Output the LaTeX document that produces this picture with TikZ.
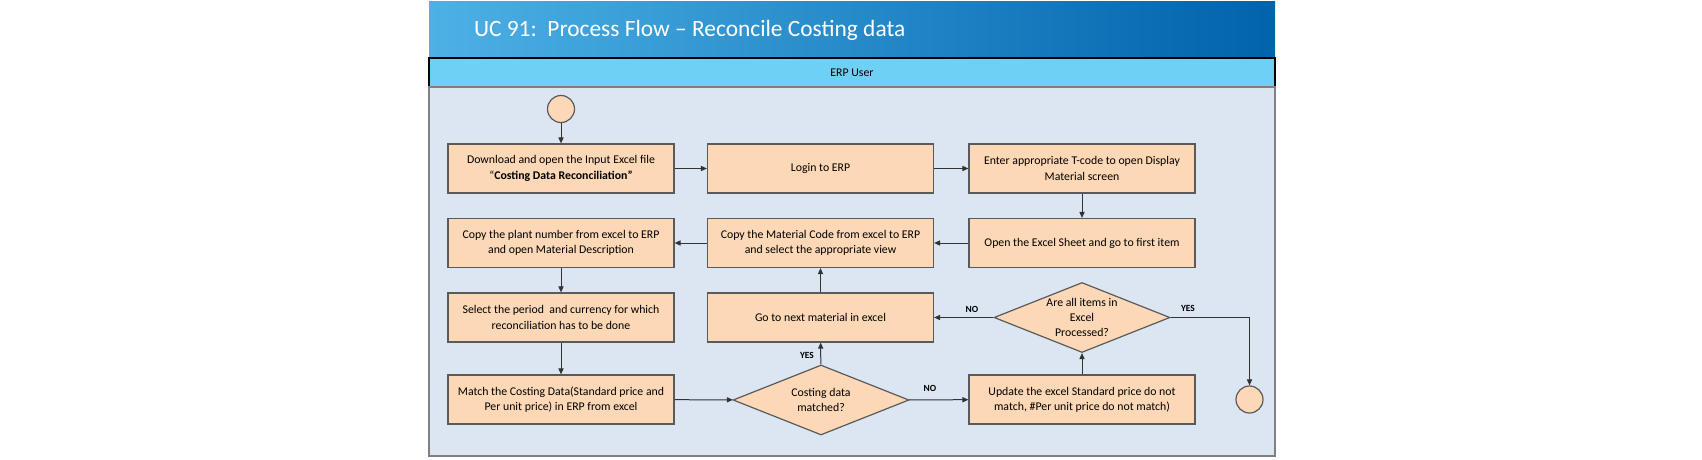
\documentclass[tikz,border=0pt]{standalone}
\usepackage{fontspec}
\setmainfont{Carlito}
\usetikzlibrary{shapes.geometric,arrows.meta}

\definecolor{peach}{HTML}{FCD8B6}
\definecolor{lanebg}{HTML}{DCE6F2}
\definecolor{lanehead}{HTML}{6FD0F6}
\definecolor{titleleft}{HTML}{4DB1E6}
\definecolor{titleright}{HTML}{0063AC}
\definecolor{edgegray}{HTML}{5A5A5A}

\tikzset{
    proc/.style={draw=edgegray, fill=peach, line width=0.6pt, minimum width=113pt,
        minimum height=24.5pt, inner sep=1pt, align=center,
        font=\fontsize{5.9}{7.6}\selectfont},
    decide/.style={diamond, draw=edgegray, fill=peach, line width=0.6pt, aspect=2.5,
        minimum width=88pt, minimum height=35pt, inner sep=0pt, align=center,
        font=\fontsize{5.9}{7.6}\selectfont},
    terminal/.style={circle, draw=edgegray, fill=peach, line width=0.6pt,
        minimum size=13.5pt, inner sep=0pt},
    flow/.style={draw=black!80, line width=0.5pt, -{Triangle[length=3pt,width=2.6pt]}},
    answer/.style={font=\fontsize{4.7}{5}\selectfont\bfseries}
}

\begin{document}
\begin{tikzpicture}[x=0.5pt,y=-0.5pt]
    \useasboundingbox (0,0) rectangle (1702,460);
    % title band and swim lane
    \shade[left color=titleleft, right color=titleright] (429,2) rectangle (1275,58);
    \node[anchor=base west, text=white, font=\fontsize{11.7}{13}\selectfont] (title) at (467,37)
        {UC 91:\ \ Process Flow – Reconcile Costing data};
    \draw[fill=lanehead, draw=black, line width=0.8pt] (429,58) rectangle (1275,87);
    \node[font=\fontsize{5.9}{7.1}\selectfont] (lane) at (852,73) {ERP User};
    \draw[fill=lanebg, draw=gray, line width=0.8pt] (429,87) rectangle (1275,456);

    % steps
    \node[terminal] (start) at (561,109) {};
    \node[proc] (download) at (561,168.5)
        {Download and open the Input Excel file\\“\textbf{Costing Data Reconciliation”}};
    \node[proc] (login) at (820.5,168.5) {Login to ERP};
    \node[proc] (tcode) at (1082,168.5) {Enter appropriate T-code to open Display\\Material screen};
    \node[proc] (sheet) at (1082,243) {Open the Excel Sheet and go to first item};
    \node[proc] (matcode) at (820.5,243) {Copy the Material Code from excel to ERP\\and select the appropriate view};
    \node[proc] (plant) at (561,243) {Copy the plant number from excel to ERP\\and open Material Description};
    \node[proc] (period) at (561,317.5) {Select the period\ \ and currency for which\\reconciliation has to be done};
    \node[proc] (match) at (561,399.5) {Match the Costing Data(Standard price and\\Per unit price) in ERP from excel};
    \node[decide] (matched) at (821,400) {Costing data\\matched?};
    \node[proc] (update) at (1082,399.5) {Update the excel Standard price do not\\match, \#Per unit price do not match)};
    \node[decide] (alldone) at (1082,317.5) {Are all items in\\Excel\\Processed?};
    \node[proc] (next) at (820.5,317.5) {Go to next material in excel};
    \node[terminal] (stop) at (1249.5,399.5) {};

    % connectors
    \draw[flow] (start) -- (download);
    \draw[flow] (download) -- (login);
    \draw[flow] (login) -- (tcode);
    \draw[flow] (tcode) -- (sheet);
    \draw[flow] (sheet) -- (matcode);
    \draw[flow] (matcode) -- (plant);
    \draw[flow] (plant) -- (period);
    \draw[flow] (period) -- (match);
    \draw[flow] (match) -- (matched);
    \draw[flow] (matched) -- (next);
    \draw[flow] (matched) -- (update);
    \draw[flow] (update) -- (alldone);
    \draw[flow] (alldone) -- (next);
    \draw[flow] (alldone.east) -| (stop.north);
    \draw[flow] (next) -- (matcode);

    % answers
    \node[answer] (yes1) at (807,355) {YES};
    \node[answer] (no1) at (930,388) {NO};
    \node[answer] (no2) at (972,309) {NO};
    \node[answer] (yes2) at (1188,308) {YES};
\end{tikzpicture}
\end{document}
